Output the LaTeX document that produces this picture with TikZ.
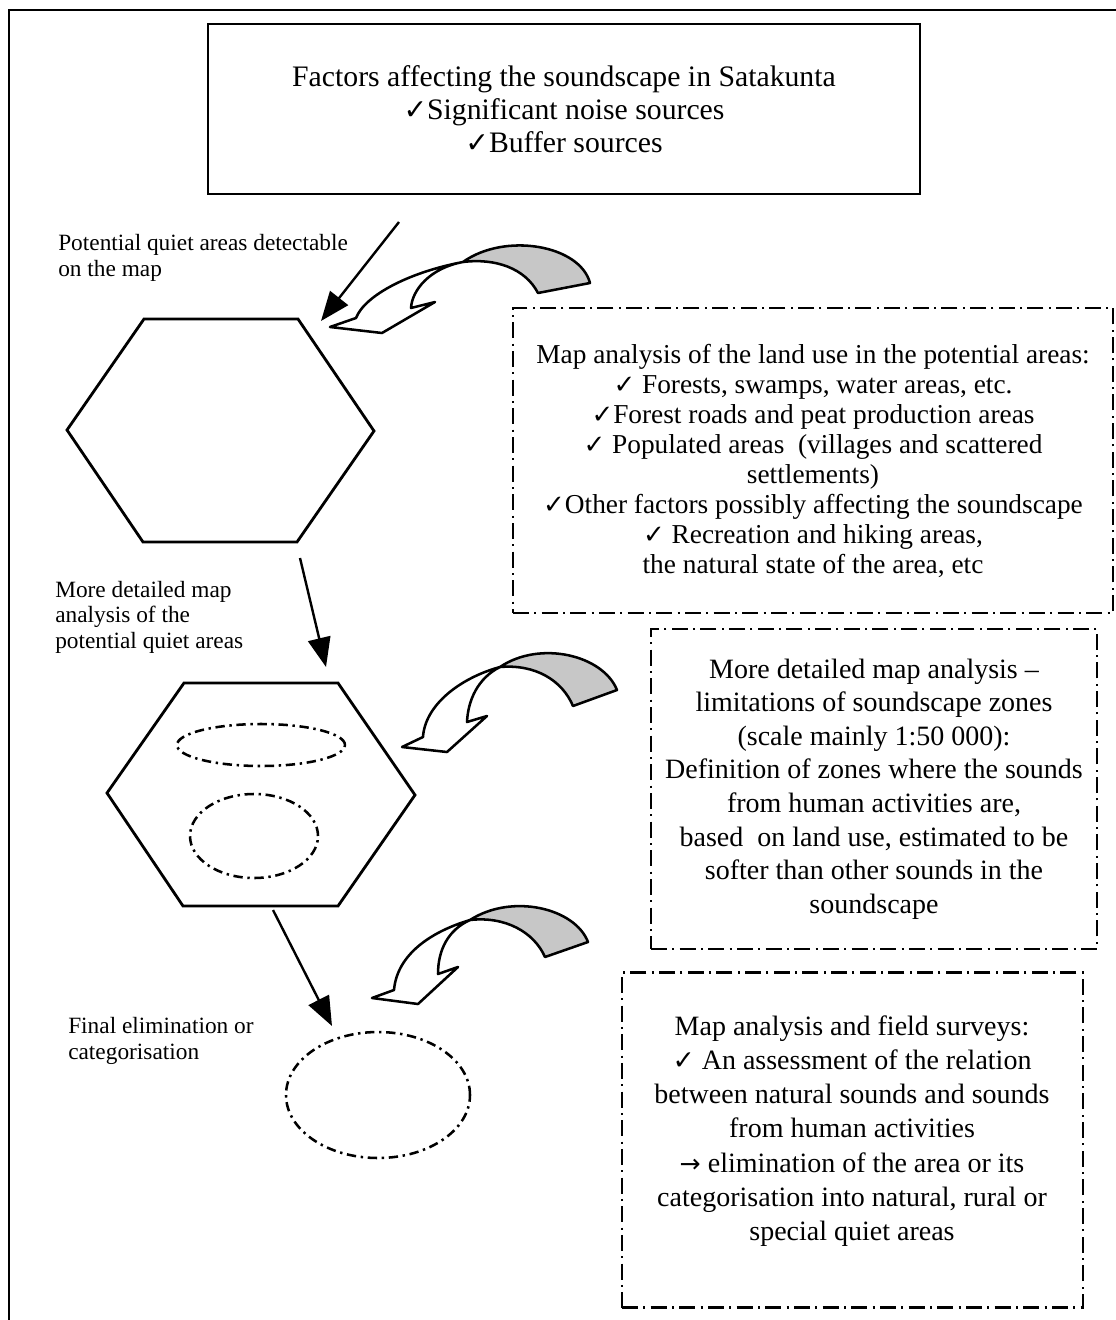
\documentclass[tikz,border=0pt]{standalone}
\usepackage{fontspec}
\usepackage{graphicx}
\setmainfont{Liberation Serif}
\newfontfamily\symf{DejaVu Sans}
\usetikzlibrary{arrows.meta,shapes.geometric}
\newcommand\ck{{\symf\scalebox{0.95}{✓}}}
\newcommand\rarr{{\symf\scalebox{0.9}{→}}}
\begin{document}
\begin{tikzpicture}[x=0.75pt,y=-0.75pt,
  frame/.style={line width=2.2pt},
  solidbox/.style={draw, line width=2.2pt, inner sep=0pt},
  dashbox/.style={draw, line width=1.8pt, inner sep=0pt, dash pattern=on 12pt off 4pt on 1.5pt off 4pt},
  zone/.style={draw, ellipse, inner sep=0pt, line width=1.9pt, dash pattern=on 7pt off 3.5pt on 1.8pt off 3.5pt},
  hexa/.style={line width=2.1pt, line join=miter},
  flow/.style={line width=1.8pt, -{Triangle[length=22pt,width=17pt]}},
  bentfront/.style={line width=1.9pt, line join=round, fill=white},
  bentback/.style={line width=1.9pt, line join=round, fill=black!22},
  ttxt/.style={align=center, font=\fontsize{22.3}{24.75}\selectfont},
  txtA/.style={align=center, font=\fontsize{20.5}{22.5}\selectfont},
  txtB/.style={align=center, font=\fontsize{21}{25.2}\selectfont},
  txtC/.style={align=center, font=\fontsize{21}{25.6}\selectfont},
  lbl/.style={align=left, anchor=west, inner sep=0pt, font=\fontsize{17.5}{19.2}\selectfont}
]
\useasboundingbox (0,0) rectangle (1115,1320);
\fill[white] (0,0) rectangle (1115,1320);

% outer frame
\draw[frame] (9,1330) -- (9,10) -- (1125,10);

% top box
\node[solidbox, ttxt, minimum width=534pt, minimum height=127.5pt] (top) at (564,109)
  {Factors affecting the soundscape in Satakunta\\\ck Significant noise sources\\\ck Buffer sources};

% dashed boxes
\node[dashbox, txtA, minimum width=450pt, minimum height=228.75pt] (b1) at (813,460.5)
  {Map analysis of the land use in the potential areas:\\
   \ck\ Forests, swamps, water areas, etc.\\
   \ck Forest roads and peat production areas\\
   \ck\ Populated areas~ (villages and scattered\\
   settlements)\\
   \ck Other factors possibly affecting the soundscape\\
   \ck\ Recreation and hiking areas,\\
   the natural state of the area, etc};

\node[dashbox, txtB, minimum width=334.5pt, minimum height=240pt] (b2) at (874,789)
  {More detailed map analysis --\\
   limitations of soundscape zones\\
   (scale mainly 1:50 000):\\
   Definition of zones where the sounds\\
   from human activities are,\\
   based~ on land use, estimated to be\\
   softer than other sounds in the\\
   soundscape};

\node[dashbox, minimum width=345.75pt, minimum height=251.25pt] (b3) at (852.5,1140) {};
\node[txtC, inner sep=0pt] (b3t) at (852,1131)
  {Map analysis and field surveys:\\
   \ck\ An assessment of the relation\\
   between natural sounds and sounds\\
   from human activities\\
   \rarr\ elimination of the area or its\\
   categorisation into natural, rural or\\
   special quiet areas};

% left labels
\node[lbl] (l1) at (58,258) {Potential quiet areas detectable\\on the map};
\node[lbl] (l2) at (55,617) {More detailed map\\analysis of the\\potential quiet areas};
\node[lbl] (l3) at (68,1041) {Final elimination or\\categorisation};

% hexagons
\draw[hexa] (144,319) -- (298,319) -- (374,431) -- (297,542) -- (143,542) -- (67,430) -- cycle;
\draw[hexa] (184,683) -- (338,683) -- (415,795) -- (338,906) -- (183,906) -- (107,793) -- cycle;

% zones
\node[zone, minimum width=126pt, minimum height=31.5pt] (z1) at (261,745) {};
\node[zone, minimum width=96pt, minimum height=63pt] (z2) at (254,836) {};
\node[zone, minimum width=138pt, minimum height=94.5pt] (z3) at (378,1095) {};

% straight arrows
\coordinate (a1s) at (399,222);
\coordinate (a1e) at (321,321);
\coordinate (a2s) at (300,558);
\coordinate (a2e) at (326,667);
\coordinate (a3s) at (273,910);
\coordinate (a3e) at (332,1026);
\draw[flow] (a1s) -- (a1e);
\draw[flow] (a2s) -- (a2e);
\draw[flow] (a3s) -- (a3e);

% curved block arrow 1
\draw[bentback] (590,283) .. controls (580,245) and (505,232) .. (463,262)
  .. controls (495,258) and (525,268) .. (538,293) -- cycle;
\draw[bentfront] (463,262) .. controls (410,272) and (365,295) .. (356,318)
  -- (330,327) -- (382,333) -- (435,302) -- (411,308)
  .. controls (412,290) and (430,268) .. (463,262) -- cycle;

% curved block arrow 2
\draw[bentback] (617,690) .. controls (603,655) and (540,640) .. (500,667)
  .. controls (535,664) and (562,680) .. (573,706) -- cycle;
\draw[bentfront] (500,667) .. controls (460,678) and (425,705) .. (423,737)
  -- (402,747) -- (447,752) -- (487,716) -- (467,722)
  .. controls (468,700) and (478,678) .. (500,667) -- cycle;

% curved block arrow 3
\draw[bentback] (588,942) .. controls (575,908) and (512,893) .. (470,920)
  .. controls (505,916) and (534,932) .. (545,957) -- cycle;
\draw[bentfront] (470,920) .. controls (430,932) and (397,955) .. (394,990)
  -- (372,998) -- (418,1004) -- (458,967) -- (438,974)
  .. controls (438,950) and (448,930) .. (470,920) -- cycle;
\end{tikzpicture}
\end{document}
